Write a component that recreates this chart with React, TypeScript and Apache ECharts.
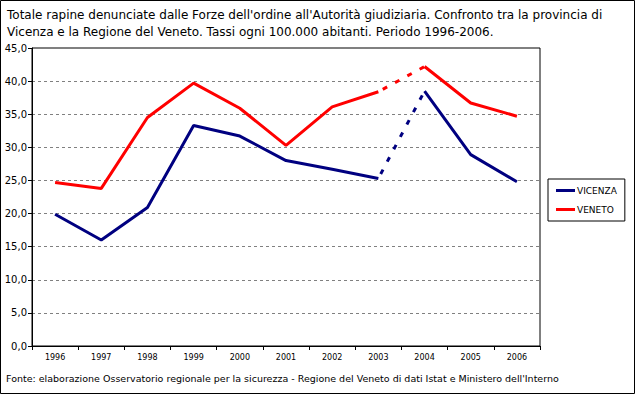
import React, { useEffect, useRef } from "react";
import * as echarts from "echarts";

const years = ["1996", "1997", "1998", "1999", "2000", "2001", "2002", "2003", "2004", "2005", "2006"];
const vicenza = [19.9, 16.0, 20.9, 33.3, 31.7, 28.0, 26.7, 25.3, 38.5, 28.9, 24.8];
const veneto = [24.7, 23.8, 34.5, 39.7, 35.9, 30.3, 36.1, 38.4, 42.2, 36.7, 34.7];
const dashedFrom = 7; // 2003 -> 2004 segment drawn dashed

const titleText =
  "Totale rapine denunciate dalle Forze dell'ordine all'Autorità giudiziaria. Confronto tra la provincia di\nVicenza e la Regione del Veneto. Tassi ogni 100.000 abitanti. Periodo 1996-2006.";
const sourceText =
  "Fonte: elaborazione Osservatorio regionale per la sicurezza - Regione del Veneto di dati Istat e Ministero dell'Interno";

const FONT = "DejaVu Sans";

function segments(name: string, values: number[], color: string) {
  const solidA = values.map((v, i) => (i <= dashedFrom ? v : null));
  const dashed = values.map((v, i) => (i === dashedFrom || i === dashedFrom + 1 ? v : null));
  const solidB = values.map((v, i) => (i >= dashedFrom + 1 ? v : null));
  const base = {
    name,
    type: "line" as const,
    showSymbol: false,
    symbol: "none",
    connectNulls: false,
    itemStyle: { color },
  };
  return [
    { ...base, data: solidA, lineStyle: { color, width: 3 } },
    { ...base, data: dashed, lineStyle: { color, width: 3, type: [5, 9], dashOffset: -5 } },
    { ...base, data: solidB, lineStyle: { color, width: 3 } },
  ];
}

export default function App() {
  const ref = useRef<HTMLDivElement>(null);
  useEffect(() => {
    if (!ref.current) return;
    const chart = echarts.init(ref.current, null, { renderer: "svg" });
    chart.setOption({
      animation: false,
      backgroundColor: "#ffffff",
      textStyle: { fontFamily: FONT },
      title: {
        text: titleText,
        left: 2,
        top: 1,
        textStyle: { fontFamily: FONT, fontSize: 12, fontWeight: "normal", color: "#000", lineHeight: 17 },
      },
      legend: {
        data: ["VICENZA", "VENETO"],
        orient: "vertical",
        left: 548,
        top: 179,
        padding: [7, 8, 7, 8],
        itemGap: 10,
        itemWidth: 19,
        itemHeight: 3,
        icon: "rect",
        borderColor: "#000",
        borderWidth: 1,
        textStyle: { fontFamily: FONT, fontSize: 9, color: "#000", padding: [0, 0, 0, -3] },
      },
      grid: {
        left: 32,
        right: 95,
        top: 48,
        bottom: 48,
        show: true,
        borderColor: "#000",
        borderWidth: 1,
        backgroundColor: "transparent",
      },
      xAxis: {
        type: "category",
        data: years,
        boundaryGap: true,
        axisLine: { lineStyle: { color: "#000", width: 1 } },
        axisTick: { show: true, length: 4, lineStyle: { color: "#000" } },
        axisLabel: { fontFamily: FONT, fontSize: 8, color: "#000", margin: 7 },
      },
      yAxis: {
        type: "value",
        min: 0,
        max: 45,
        interval: 5,
        axisLine: { show: true, lineStyle: { color: "#000", width: 1 } },
        axisTick: { show: true, length: 4, lineStyle: { color: "#000" } },
        axisLabel: {
          fontFamily: FONT,
          fontSize: 10,
          color: "#000",
          margin: 5,
          formatter: (v: number) => v.toFixed(1).replace(".", ","),
        },
        splitLine: { show: true, lineStyle: { color: "#808080", type: [3, 3], width: 1 } },
      },
      graphic: [
        {
          type: "rect",
          shape: { x: 0.5, y: 0.5, width: 634, height: 393 },
          style: { fill: "none", stroke: "#000", lineWidth: 1 },
          silent: true,
        },
        {
          type: "text",
          left: 6,
          top: 373,
          style: { text: sourceText, font: `9.5px '${FONT}'`, fill: "#000" },
        },
      ],
      series: [...segments("VICENZA", vicenza, "#000080"), ...segments("VENETO", veneto, "#ff0000")],
    });
    return () => chart.dispose();
  }, []);
  return (
    <div
      ref={ref}
      style={{ position: "fixed", left: 0, top: 0, width: 635, height: 394 }}
    />
  );
}
